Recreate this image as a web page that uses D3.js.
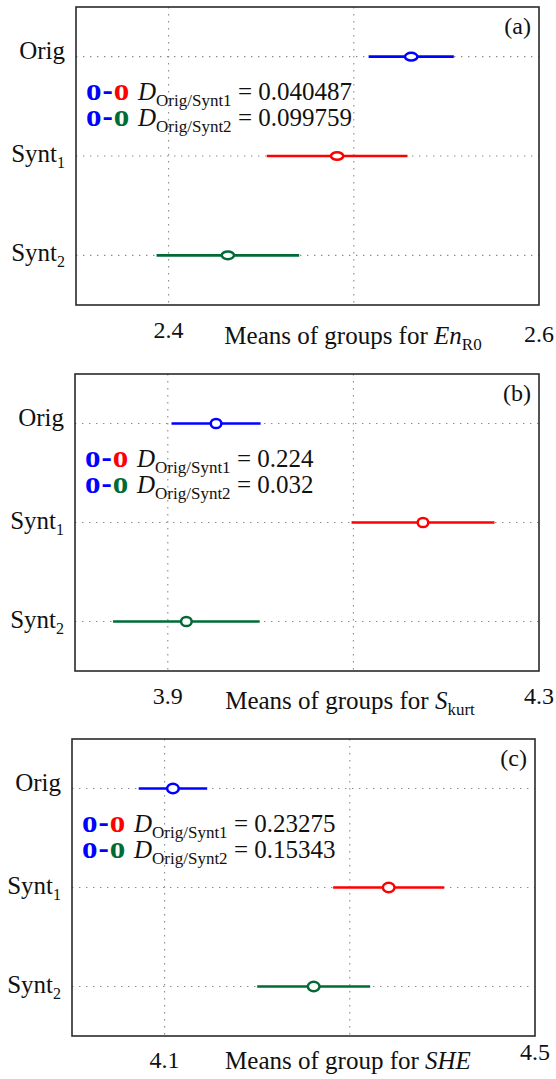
<!DOCTYPE html>
<html>
<head>
<meta charset="utf-8">
<script src="https://cdn.jsdelivr.net/npm/d3@7"></script>
<style>
  html, body { margin: 0; padding: 0; background: #fff; }
  svg { display: block; }
</style>
</head>
<body>
<svg id="chart" width="556" height="1079"></svg>
<script>
const SERIF = "Liberation Serif";

// Group order (top to bottom) and their display names
const groups = ["Orig", "Synt1", "Synt2"];
const groupBase = ["Orig", "Synt", "Synt"];
const groupSub = ["", "1", "2"];
const groupColors = ["#0000ff", "#ff0000", "#006b35"];

// (a) group means and comparison-interval half widths for En_R0
const meansA = [2.531, 2.491, 2.432];
const halfA = [0.023, 0.038, 0.0385];
const domainA = [2.35, 2.6];
const gridA = [2.4, 2.5];
const tickLabelsA = ["2.4", "2.6"];
const distA = ["0.040487", "0.099759"];

// (b) group means and half widths for S_kurt
const meansB = [3.952, 4.175, 3.920];
const halfB = [0.048, 0.077, 0.079];
const domainB = [3.8, 4.3];
const gridB = [3.9, 4.1];
const tickLabelsB = ["3.9", "4.3"];
const distB = ["0.224", "0.032"];

// (c) group means and half widths for SHE
const meansC = [4.109, 4.342, 4.261];
const halfC = [0.037, 0.060, 0.061];
const domainC = [4.0, 4.5];
const gridC = [4.1, 4.3];
const tickLabelsC = ["4.1", "4.5"];
const distC = ["0.23275", "0.15343"];

const panels = [
  { tag: "(a)", means: meansA, half: halfA, domain: domainA, grid: gridA, ticks: tickLabelsA, dist: distA,
    box: { l: 76, r: 539, t: 7, b: 305 }, tickDy: [33, 37], marker: [6.2, 3.8],
    title: { x: 353, dy: 39, parts: [["Means of groups for ", "n"], ["En", "i"], ["R0", "s"]] } },
  { tag: "(b)", means: meansB, half: halfB, domain: domainB, grid: gridB, ticks: tickLabelsB, dist: distB,
    box: { l: 75, r: 539, t: 374, b: 671 }, tickDy: [33, 33], marker: [5.3, 4.6],
    title: { x: 350, dy: 38, parts: [["Means of groups for ", "n"], ["S", "i"], ["kurt", "s"]] } },
  { tag: "(c)", means: meansC, half: halfC, domain: domainC, grid: gridC, ticks: tickLabelsC, dist: distC,
    box: { l: 72, r: 535, t: 739, b: 1036 }, tickDy: [32, 24], marker: [5.8, 4.8],
    title: { x: 348, dy: 33, parts: [["Means of group for ", "n"], ["SHE", "i"]] } }
];

const svg = d3.select("#chart");

function serifText(sel, size) {
  return sel.attr("font-family", SERIF).attr("font-size", size).attr("fill", "#111");
}

panels.forEach(p => {
  const { l, r, t, b } = p.box;
  const x = d3.scaleLinear().domain(p.domain).range([l, r]);
  const y = d3.scalePoint().domain(groups).range([t, b]).padding(0.5);
  const g = svg.append("g");

  // dotted grid: vertical at ticks, horizontal at each group row
  g.selectAll("line.vgrid").data(p.grid).join("line")
    .attr("x1", d => x(d)).attr("x2", d => x(d))
    .attr("y1", t).attr("y2", b)
    .attr("stroke", "#8a8a8a").attr("stroke-width", 1.1)
    .attr("stroke-dasharray", "1.4,5.6");
  g.selectAll("line.hgrid").data(groups).join("line")
    .attr("x1", l).attr("x2", r)
    .attr("y1", d => y(d)).attr("y2", d => y(d))
    .attr("stroke", "#8a8a8a").attr("stroke-width", 1.1)
    .attr("stroke-dasharray", "1.4,5.6");

  // comparison intervals
  g.selectAll("line.bar").data(groups).join("line")
    .attr("x1", (d, i) => x(p.means[i] - p.half[i]))
    .attr("x2", (d, i) => x(p.means[i] + p.half[i]))
    .attr("y1", d => y(d)).attr("y2", d => y(d))
    .attr("stroke", (d, i) => groupColors[i]).attr("stroke-width", 2.7);

  // group means
  g.selectAll("ellipse").data(groups).join("ellipse")
    .attr("cx", (d, i) => x(p.means[i]))
    .attr("cy", d => y(d))
    .attr("rx", p.marker[0]).attr("ry", p.marker[1])
    .attr("fill", "#fff")
    .attr("stroke", (d, i) => groupColors[i]).attr("stroke-width", 2.5);

  // frame
  g.append("rect")
    .attr("x", l).attr("y", t).attr("width", r - l).attr("height", b - t)
    .attr("fill", "none").attr("stroke", "#2a2a2a").attr("stroke-width", 1.6);

  // group labels with numeric subscripts
  groups.forEach((d, i) => {
    const yl = serifText(g.append("text"), 25)
      .attr("x", l - 11)
      .attr("y", y(d) + (i === 0 ? 2 : 6))
      .attr("text-anchor", "end");
    yl.append("tspan").text(groupBase[i]);
    if (groupSub[i]) {
      yl.append("tspan").attr("dy", 6).attr("font-size", 16).text(groupSub[i]);
    }
  });

  // panel tag
  serifText(g.append("text"), 24).attr("x", r - 8).attr("y", t + 27)
    .attr("text-anchor", "end").text(p.tag);

  // x tick labels at the first and last tick
  const tickVals = p.ticks.map(Number);
  tickVals.forEach((v, i) => {
    serifText(g.append("text"), 24)
      .attr("x", x(v))
      .attr("y", b + p.tickDy[i])
      .attr("text-anchor", "middle")
      .text(p.ticks[i]);
  });

  // axis title
  const tt = serifText(g.append("text"), 25).attr("x", p.title.x).attr("y", b + p.title.dy)
    .attr("text-anchor", "middle");
  p.title.parts.forEach(([s, kind]) => {
    const ts = tt.append("tspan").text(s);
    if (kind === "i") ts.attr("font-style", "italic");
    if (kind === "s") ts.attr("dy", 6).attr("font-size", 17);
  });

  // distance legend: coloured pair marker followed by the distance value
  const pairs = [[0, 1], [0, 2]];
  pairs.forEach((pr, k) => {
    const ly = t + 93 + k * 26;
    const lx = l + 10;
    const mk = serifText(g.append("text"), 31).attr("x", lx).attr("y", ly)
      .attr("font-weight", "bold").attr("letter-spacing", 1);
    mk.append("tspan").attr("fill", groupColors[pr[0]]).text("o-");
    mk.append("tspan").attr("fill", groupColors[pr[1]]).text("o");

    const lt = serifText(g.append("text"), 25).attr("x", lx + 52).attr("y", ly);
    lt.append("tspan").attr("font-style", "italic").text("D");
    lt.append("tspan").attr("dy", 6).attr("font-size", 17).text("Orig/Synt" + (k + 1));
    lt.append("tspan").attr("dy", -6).text(" = " + p.dist[k]);
  });
});
</script>
</body>
</html>
